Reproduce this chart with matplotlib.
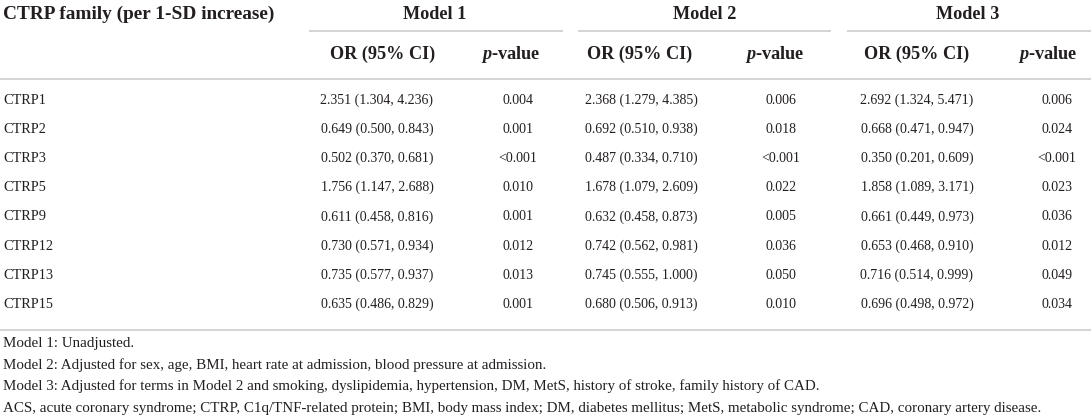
import matplotlib
matplotlib.use("Agg")
import matplotlib.pyplot as plt

families = ["CTRP1", "CTRP2", "CTRP3", "CTRP5", "CTRP9", "CTRP12", "CTRP13", "CTRP15"]
m1_or = ["2.351 (1.304, 4.236)", "0.649 (0.500, 0.843)", "0.502 (0.370, 0.681)", "1.756 (1.147, 2.688)",
         "0.611 (0.458, 0.816)", "0.730 (0.571, 0.934)", "0.735 (0.577, 0.937)", "0.635 (0.486, 0.829)"]
m1_p = ["0.004", "0.001", "<0.001", "0.010", "0.001", "0.012", "0.013", "0.001"]
m2_or = ["2.368 (1.279, 4.385)", "0.692 (0.510, 0.938)", "0.487 (0.334, 0.710)", "1.678 (1.079, 2.609)",
         "0.632 (0.458, 0.873)", "0.742 (0.562, 0.981)", "0.745 (0.555, 1.000)", "0.680 (0.506, 0.913)"]
m2_p = ["0.006", "0.018", "<0.001", "0.022", "0.005", "0.036", "0.050", "0.010"]
m3_or = ["2.692 (1.324, 5.471)", "0.668 (0.471, 0.947)", "0.350 (0.201, 0.609)", "1.858 (1.089, 3.171)",
         "0.661 (0.449, 0.973)", "0.653 (0.468, 0.910)", "0.716 (0.514, 0.999)", "0.696 (0.498, 0.972)"]
m3_p = ["0.006", "0.024", "<0.001", "0.023", "0.036", "0.012", "0.049", "0.034"]
models = ["Model 1", "Model 2", "Model 3"]
first_header = "CTRP family (per 1-SD increase)"
or_header = "OR (95% CI)"
p_header = r"$\mathbfit{p}$-value"
footnotes = [
    "Model 1: Unadjusted.",
    "Model 2: Adjusted for sex, age, BMI, heart rate at admission, blood pressure at admission.",
    "Model 3: Adjusted for terms in Model 2 and smoking, dyslipidemia, hypertension, DM, MetS, history of stroke, family history of CAD.",
    "ACS, acute coronary syndrome; CTRP, C1q/TNF-related protein; BMI, body mass index; DM, diabetes mellitus; MetS, metabolic syndrome; CAD, coronary artery disease.",
]

FONT = "Liberation Serif"
plt.rcParams["mathtext.fontset"] = "custom"
plt.rcParams["mathtext.rm"] = FONT
plt.rcParams["mathtext.it"] = FONT + ":italic"
plt.rcParams["mathtext.bf"] = FONT + ":bold"
plt.rcParams["mathtext.bfit"] = FONT + ":bold:italic"

W, H = 1091, 419
fig = plt.figure(figsize=(W / 100, H / 100), dpi=100)
ax = fig.add_axes([0, 0, 1, 1])
ax.set_xlim(0, W)
ax.set_ylim(H, 0)
ax.axis("off")
renderer = fig.canvas.get_renderer()


def fit_size(text, target_px, weight="normal", base=10.0):
    t = fig.text(0, 0, text, fontsize=base, family=FONT, fontweight=weight)
    w = t.get_window_extent(renderer).width
    t.remove()
    return base * target_px / w


tc = "#231f20"
lc = "#c9c9c9"
head = fit_size(or_header, 105, "bold")
head0 = fit_size(first_header, 272, "bold")
body = fit_size(m1_or[0], 113)
label = fit_size(families[0], 43)
foot = fit_size(footnotes[3], 1038)

# column geometry (pixels)
model_x = [435, 705, 968]
spans = [(309, 563), (578, 831), (847, 1091)]
orh_x = [383, 640, 917]
ph_x = [511, 775, 1048]
or_x = [377, 641, 917]
p_x = [518, 781, 1057]

kw = dict(family=FONT, color=tc)
ax.text(3, 19, first_header, ha="left", va="baseline", fontsize=head0, fontweight="bold", **kw)
for i, m in enumerate(models):
    ax.text(model_x[i], 19, m, ha="center", va="baseline", fontsize=head, fontweight="bold", **kw)
    ax.plot(spans[i], [31, 31], color=lc, lw=1.1, solid_capstyle="butt")
    ax.text(orh_x[i], 59, or_header, ha="center", va="baseline", fontsize=head, fontweight="bold", **kw)
    ax.text(ph_x[i], 59, p_header, ha="center", va="baseline", fontsize=head, fontweight="bold", **kw)

ax.plot([0, W], [79, 79], color=lc, lw=1.1)
ax.plot([0, W], [330, 330], color=lc, lw=1.1)

y0, dy = 104, 29.1
cols = [(or_x[0], m1_or), (p_x[0], m1_p), (or_x[1], m2_or), (p_x[1], m2_p), (or_x[2], m3_or), (p_x[2], m3_p)]
for r, fam in enumerate(families):
    y = y0 + r * dy
    ax.text(3, y, fam, ha="left", va="baseline", fontsize=label, **kw)
    for x, vals in cols:
        ax.text(x, y, vals[r], ha="center", va="baseline", fontsize=body, **kw)

for k, f in enumerate(footnotes):
    ax.text(3, 347 + k * 21.7, f, ha="left", va="baseline", fontsize=foot, **kw)

fig.savefig("out.png", dpi=100)
